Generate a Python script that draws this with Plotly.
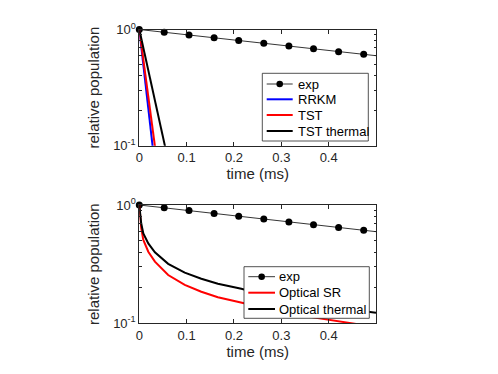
import plotly.graph_objects as go

# =========================================================
# DATA
# =========================================================
exp_t = [0, 0.0526, 0.105, 0.158, 0.21, 0.263, 0.316, 0.368, 0.421, 0.474]
exp_y = [1.0, 0.947, 0.897, 0.849, 0.804, 0.761, 0.720, 0.682, 0.645, 0.613]
exp_fit_t = [0, 0.5]
exp_fit_y = [1.0, 0.595]

tst_t = [0, 0.01, 0.02, 0.03, 0.04, 0.05, 0.06]
rrkm_y = [1.0, 0.44, 0.193, 0.085, 0.037, 0.0164, 0.0072]
tst_y = [1.0, 0.497, 0.248, 0.123, 0.061, 0.030, 0.015]
tst_thermal_y = [1.0, 0.653, 0.426, 0.279, 0.182, 0.119, 0.0776]

opt_t = [0, 0.002, 0.004, 0.0085, 0.019, 0.033, 0.061, 0.096, 0.131, 0.166,
         0.2155, 0.25, 0.3, 0.35, 0.4, 0.45, 0.5]
opt_sr_y = [1.0, 0.75, 0.64, 0.506, 0.403, 0.332, 0.256, 0.211, 0.185, 0.166,
            0.150, 0.138, 0.125, 0.115, 0.107, 0.100, 0.093]
opt_thermal_y = [1.0, 0.80, 0.70, 0.576, 0.474, 0.398, 0.318, 0.268, 0.238, 0.216,
                 0.196, 0.180, 0.163, 0.150, 0.139, 0.130, 0.123]

x_ticks = [0, 0.1, 0.2, 0.3, 0.4]
x_ticktext = ["0", "0.1", "0.2", "0.3", "0.4"]
y_ticks = [0.1, 1]
y_ticktext = ["10<sup>-1</sup>", "10<sup>0</sup>"]

top_names = ["exp", "RRKM", "TST", "TST thermal"]
top_colors = ["black", "#0000ff", "#ff0000", "black"]
bot_names = ["exp", "Optical SR", "Optical thermal"]
bot_colors = ["black", "#ff0000", "black"]

# =========================================================
# STYLE / LAYOUT HELPERS
# =========================================================
W, H = 498, 374
OFF = 8   # page offset of the plot div (body margin)
FONT = "Liberation Sans, Arial, sans-serif"
AX = "#262626"


def px(sx):
    return (sx - OFF) / W


def py(sy):
    return 1 - (sy - OFF) / H


X_DOM = [px(139.3), px(376)]
TOP = [py(145.7), py(29.5)]
BOT = [py(323.3), py(205)]

fig = go.Figure()


def add_exp(xa, ya):
    fig.add_trace(go.Scatter(
        x=exp_fit_t, y=exp_fit_y, mode="lines", xaxis=xa, yaxis=ya,
        line=dict(color="black", width=0.8), hoverinfo="skip"))
    fig.add_trace(go.Scatter(
        x=exp_t, y=exp_y, mode="markers", name="exp", xaxis=xa, yaxis=ya,
        marker=dict(color="black", size=7), cliponaxis=False))


# top panel
add_exp("x", "y")
fig.add_trace(go.Scatter(x=tst_t, y=rrkm_y, mode="lines", name="RRKM",
                         line=dict(color=top_colors[1], width=2)))
fig.add_trace(go.Scatter(x=tst_t, y=tst_y, mode="lines", name="TST",
                         line=dict(color=top_colors[2], width=2)))
fig.add_trace(go.Scatter(x=tst_t, y=tst_thermal_y, mode="lines", name="TST thermal",
                         line=dict(color=top_colors[3], width=2)))

# bottom panel
add_exp("x2", "y2")
fig.add_trace(go.Scatter(x=opt_t, y=opt_sr_y, mode="lines", name="Optical SR",
                         xaxis="x2", yaxis="y2",
                         line=dict(color=bot_colors[1], width=2)))
fig.add_trace(go.Scatter(x=opt_t, y=opt_thermal_y, mode="lines", name="Optical thermal",
                         xaxis="x2", yaxis="y2",
                         line=dict(color=bot_colors[2], width=2)))

# compact MATLAB-like legends: box, key lines, marker and text
shapes = []
annotations = []


def add_legend(box, rows, line_x, text_x, names, colors):
    x0, y0, x1, y1 = box
    shapes.append(dict(type="rect", xref="paper", yref="paper", layer="above",
                       x0=px(x0), x1=px(x1), y0=py(y0), y1=py(y1),
                       fillcolor="white", line=dict(color=AX, width=0.8)))
    for name, color, ry in zip(names, colors, rows):
        shapes.append(dict(type="line", xref="paper", yref="paper", layer="above",
                           x0=px(line_x[0]), x1=px(line_x[1]), y0=py(ry), y1=py(ry),
                           line=dict(color=color, width=0.8 if name == "exp" else 2)))
        if name == "exp":
            cx = (line_x[0] + line_x[1]) / 2
            r = 3.3
            shapes.append(dict(type="circle", xref="paper", yref="paper", layer="above",
                               x0=px(cx - r), x1=px(cx + r), y0=py(ry + r), y1=py(ry - r),
                               fillcolor="black", line=dict(color="black", width=0)))
        annotations.append(dict(text=name, xref="paper", yref="paper", x=px(text_x),
                                y=py(ry), xanchor="left", yanchor="middle",
                                showarrow=False,
                                font=dict(size=13, color="black", family=FONT)))


add_legend((262.3, 73.3, 368.3, 141), [84, 99.3, 115, 131], (266.7, 292.7), 295.5,
           top_names, top_colors)
add_legend((244, 266.7, 369.3, 318.3), [276.7, 292.7, 309], (248.3, 275), 276.5,
           bot_names, bot_colors)

xcommon = dict(range=[0, 0.5], tickvals=x_ticks, ticktext=x_ticktext,
               ticks="inside", ticklen=4, tickcolor=AX, mirror="allticks",
               showline=True, linecolor=AX, linewidth=1, showgrid=False,
               zeroline=False, automargin=False,
               tickfont=dict(size=13, color=AX, family=FONT),
               title=dict(text="time (ms)", standoff=2,
                          font=dict(size=15, color=AX, family=FONT)),
               domain=X_DOM)
ycommon = dict(type="log", range=[-1, 0], tickvals=y_ticks, ticktext=y_ticktext,
               ticks="inside", ticklen=4, tickcolor=AX, mirror="allticks",
               showline=True, linecolor=AX, linewidth=1, showgrid=False,
               zeroline=False, automargin=False,
               tickfont=dict(size=13, color=AX, family=FONT),
               title=dict(text="relative population",
                          font=dict(size=15, color=AX, family=FONT)),
               minor=dict(ticks="inside", ticklen=2.5, tickcolor=AX, dtick="D1",
                          showgrid=False))

fig.update_layout(
    template="none",
    width=W, height=H,
    margin=dict(l=0, r=0, t=0, b=0, pad=0),
    paper_bgcolor="white", plot_bgcolor="white",
    font=dict(family=FONT, color=AX),
    showlegend=False,
    xaxis=dict(anchor="y", **xcommon),
    yaxis=dict(anchor="x", domain=TOP, **ycommon),
    xaxis2=dict(anchor="y2", **xcommon),
    yaxis2=dict(anchor="x2", domain=BOT, **ycommon),
    shapes=shapes,
    annotations=annotations,
)

fig.write_html("out.html")
